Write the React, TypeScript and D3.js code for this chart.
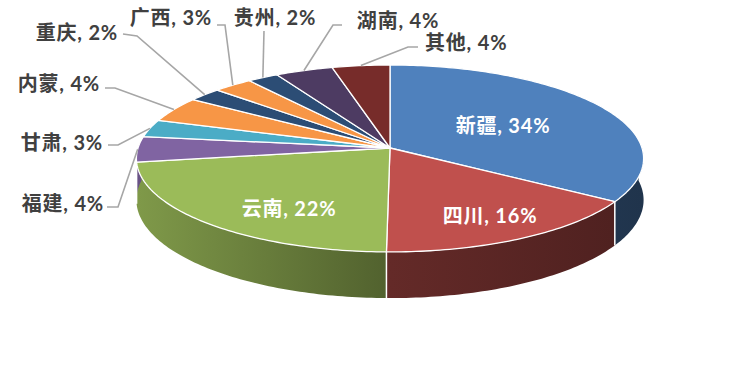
import React from "react";
import * as d3 from "d3";

// ---- data ----
const regions = ["新疆", "四川", "云南", "福建", "甘肃", "内蒙", "重庆", "广西", "贵州", "湖南", "其他"];
const shares = [34.2, 16.0, 22.4, 4.4, 3.0, 4.4, 2.4, 2.8, 2.2, 4.1, 4.1];

// ---- styles ----
const sliceColors = ["#4F81BD", "#C0504D", "#9BBB59", "#8064A2", "#4BACC6", "#F79646", "#2C4D75", "#F79646", "#2C4D75", "#4D3B62", "#772C2A"];

const W = 737, H = 369;
const CX = 390, CY = 148, RX = 252, RY = 92.3, P = 0.112, DEPTH = 41;

type Lbl = { x: number; y: number; anchor: "start" | "middle" | "end"; inside?: boolean; line?: [number, number][] };
const labelLayout: Lbl[] = [
  { x: 503, y: 125, anchor: "middle", inside: true },
  { x: 490, y: 215, anchor: "middle", inside: true },
  { x: 289, y: 208, anchor: "middle", inside: true },
  { x: 104, y: 203, anchor: "end", line: [[107, 207], [118, 207]] },
  { x: 103, y: 142, anchor: "end", line: [[108, 145], [118, 145]] },
  { x: 100, y: 83, anchor: "end", line: [[105, 88], [115, 88]] },
  { x: 118, y: 32, anchor: "end", line: [[123, 34], [137, 36]] },
  { x: 212, y: 17, anchor: "end", line: [[217, 25], [225, 25]] },
  { x: 275, y: 17, anchor: "middle", line: [[264, 31]] },
  { x: 398, y: 20, anchor: "middle", line: [[342, 25], [333, 25]] },
  { x: 425, y: 42, anchor: "start", line: [[418, 47], [408, 47]] },
];

function proj(theta: number, h = 0, r = 1): [number, number] {
  const u = r * Math.sin(theta);
  const v = -r * Math.cos(theta);
  const s = 1 / (1 - P * v);
  return [CX + RX * u * s, CY + (RY * v + DEPTH * h) * s];
}

function samples(a: number, b: number): number[] {
  const n = Math.max(2, Math.ceil(Math.abs(b - a) / (Math.PI / 180)));
  return d3.range(n + 1).map((i) => a + ((b - a) * i) / n);
}

const line = d3.line<[number, number]>();

function shade(c: string, k: number) {
  const r = d3.rgb(c);
  return d3.rgb(r.r * k, r.g * k, r.b * k).formatHex();
}

export default function App() {
  const arcs = d3.pie<number>().sort(null).startAngle(0).endAngle(2 * Math.PI)(shares);
  const total = d3.sum(shares);
  const fmt = (v: number) => d3.format(".0f")((v / total) * 100) + "%";
  const sideMin = (85 * Math.PI) / 180, sideMax = (275 * Math.PI) / 180;

  return (
    <svg width={W} height={H} style={{ position: "absolute", left: 0, top: 0, background: "#fff" }}
      fontFamily="Lato, 'Noto Sans CJK SC', sans-serif">
      <defs>
        {sliceColors.map((c, i) => (
          <linearGradient key={i} id={`side${i}`} gradientUnits="userSpaceOnUse" x1={CX - RX} x2={CX + RX} y1={0} y2={0}>
            <stop offset="0" stopColor={shade(c, 0.82)} />
            <stop offset="0.5" stopColor={shade(c, 0.52)} />
            <stop offset="1" stopColor={shade(c, 0.4)} />
          </linearGradient>
        ))}
      </defs>
      {/* sides */}
      {arcs.map((a, i) => {
        const s0 = Math.max(a.startAngle, sideMin), s1 = Math.min(a.endAngle, sideMax);
        if (s1 <= s0) return null;
        const top = samples(s0, s1).map((t) => proj(t, 0));
        const bot = samples(s0, s1).reverse().map((t) => proj(t, 1));
        return <path key={i} d={line([...top, ...bot])! + "Z"} fill={`url(#side${i})`} />;
      })}
      {arcs.map((a, i) => {
        const t = a.startAngle;
        if (t <= Math.PI / 2 || t >= (3 * Math.PI) / 2) return null;
        return <path key={"b" + i} d={line([proj(t, 0), proj(t, 1)])!} stroke="#fff" strokeWidth={1.5} />;
      })}
      {/* tops */}
      {arcs.map((a, i) => {
        const pts: [number, number][] = [[CX, CY], ...samples(a.startAngle, a.endAngle).map((t) => proj(t, 0))];
        return <path key={"t" + i} d={line(pts)! + "Z"} fill={sliceColors[i]} stroke="#fff" strokeWidth={1.3} strokeLinejoin="round" />;
      })}
      {/* leader lines */}
      {arcs.map((a, i) => {
        const L = labelLayout[i];
        if (!L.line) return null;
        const mid = (a.startAngle + a.endAngle) / 2;
        const pts: [number, number][] = [...L.line, proj(mid, 0, 1.0)];
        return <path key={"l" + i} d={line(pts)!} fill="none" stroke="#A6A6A6" strokeWidth={1.6} />;
      })}
      {/* labels */}
      {arcs.map((a, i) => {
        const L = labelLayout[i];
        return (
          <text key={"x" + i} x={L.x} y={L.y} textAnchor={L.anchor} dominantBaseline="central"
            fontSize={20} fontWeight="bold" letterSpacing={0.8} fill={L.inside ? "#fff" : "#404040"}>
            {`${regions[i]}, ${fmt(a.data)}`}
          </text>
        );
      })}
    </svg>
  );
}
